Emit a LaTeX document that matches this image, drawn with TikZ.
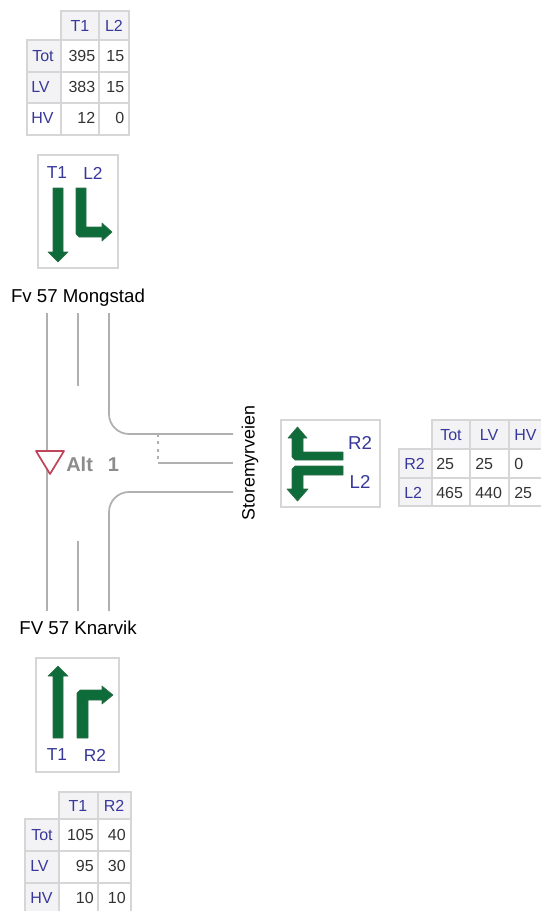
\documentclass[tikz,border=0pt]{standalone}
\usepackage{fontspec}
\setmainfont{Liberation Sans}
\definecolor{gridc}{HTML}{D6D6D6}
\definecolor{headc}{HTML}{F3F3F5}
\definecolor{labc}{HTML}{38389A}
\definecolor{numc}{HTML}{333333}
\definecolor{roadc}{HTML}{B0B0B0}
\definecolor{arrowc}{HTML}{0E6B3A}
\definecolor{arrowe}{HTML}{2E6E48}
\definecolor{yieldc}{HTML}{C0455A}
\tikzset{
  cellbox/.style={draw=gridc,line width=0.8pt},
  headbox/.style={cellbox,fill=headc},
  panel/.style={draw=gridc,line width=0.8pt,fill=white},
  road/.style={draw=roadc,line width=1.3pt},
  flow/.style={fill=arrowc,draw=arrowe,line width=0.5pt,line join=round},
  hd/.style={text=labc,font=\fontsize{12}{14}\selectfont,inner sep=0pt},
  num/.style={text=numc,font=\fontsize{12}{14}\selectfont,inner sep=0pt},
  boxlab/.style={text=labc,font=\fontsize{13}{15}\selectfont,inner sep=0pt},
  roadlab/.style={text=black,font=\fontsize{14}{16}\selectfont,inner sep=0pt},
}
\begin{document}
\begin{tikzpicture}[x=0.75pt,y=-0.75pt]
\useasboundingbox (0,0) rectangle (541,911);
\clip (0,0) rectangle (541,911);
\fill[white] (0,0) rectangle (541,911);

% ---------- top table
\draw[headbox] (61,11) rectangle (99,40);
\draw[headbox] (99,11) rectangle (129,40);
\draw[headbox] (27,40) rectangle (61,72);
\draw[headbox] (27,72) rectangle (61,103);
\draw[cellbox,fill=white] (27,103) rectangle (61,135);
\foreach \ya/\yb in {40/72,72/103,103/135}{
  \draw[cellbox] (61,\ya) rectangle (99,\yb);
  \draw[cellbox] (99,\ya) rectangle (129,\yb);
}
\node[hd] (ta1) at (80,26) {T1};
\node[hd] (ta2) at (114,26) {L2};
\node[hd,anchor=west] (ta3) at (32,56) {Tot};
\node[hd,anchor=west] (ta4) at (31,87) {LV};
\node[hd,anchor=west] (ta5) at (31,118) {HV};
\node[num,anchor=east] (ta6) at (95.5,56) {395};
\node[num,anchor=east] (ta7) at (124.5,56) {15};
\node[num,anchor=east] (ta8) at (95.5,87) {383};
\node[num,anchor=east] (ta9) at (124.5,87) {15};
\node[num,anchor=east] (ta10) at (95.5,118) {12};
\node[num,anchor=east] (ta11) at (124.5,118) {0};

% ---------- top panel
\draw[panel] (38,155) rectangle (118,268);
\node[boxlab] (pa1) at (57,173) {T1};
\node[boxlab] (pa2) at (93,173) {L2};
\draw[flow] (53,188) -- (63,188) -- (63,252) -- (68,252) -- (58,262) -- (48,252) -- (53,252) -- cycle;
\draw[flow] (76,188) -- (86,188) -- (86,227) -- (102,227) -- (102,223) -- (112,232) -- (102,241) -- (102,237) -- (79,237) -- (76,234) -- cycle;
\node[roadlab] (nroad) at (78,298) {Fv 57 Mongstad};

% ---------- junction
\draw[road] (47,313) -- (47,611);
\draw[road] (78,313) -- (78,386);
\draw[road] (109,313) -- (109,414) .. controls (109,425) and (118,434) .. (129,434) -- (233,434);
\draw[road] (158,463) -- (233,463);
\draw[road,line width=2pt,dash pattern=on 2.2pt off 3.4pt] (158,434) -- (158,463);
\draw[road] (233,492) -- (129,492) .. controls (118,492) and (109,501) .. (109,512) -- (109,611);
\draw[road] (78,541) -- (78,611);
\draw[draw=yieldc,fill=white,line width=1.3pt,line join=round] (36,451) -- (64,451) -- (50,474) -- cycle;
\node[text=black!45,font=\bfseries\fontsize{15}{16}\selectfont,inner sep=0pt,anchor=west] (alt) at (66,464) {Alt\hspace{0.75em}1};
\node[roadlab,rotate=90,font=\fontsize{13.4}{16}\selectfont] (eroad) at (250,463) {Storemyrveien};

% ---------- right panel
\draw[panel] (281,420) rectangle (380,507);
\draw[flow] (343,452) -- (303,452) -- (303,438) -- (307,438) -- (297.5,427) -- (288,438) -- (292,438) -- (292,457) -- (295,460) -- (343,460) -- cycle;
\draw[flow] (343,466) -- (295,466) -- (292,469) -- (292,489) -- (287,489) -- (297.5,501) -- (308,489) -- (303,489) -- (303,475) -- (343,475) -- cycle;
\node[boxlab,font=\fontsize{14}{16}\selectfont] (pb1) at (360,443) {R2};
\node[boxlab,font=\fontsize{14}{16}\selectfont] (pb2) at (360,482) {L2};

% ---------- right table
\draw[headbox] (432,420) rectangle (470,449);
\draw[headbox] (470,420) rectangle (509,449);
\draw[headbox] (509,420) rectangle (542,449);
\draw[headbox] (399,449) rectangle (432,478);
\draw[headbox] (399,478) rectangle (432,506);
\foreach \ya/\yb in {449/478,478/506}{
  \draw[cellbox] (432,\ya) rectangle (470,\yb);
  \draw[cellbox] (470,\ya) rectangle (509,\yb);
  \draw[cellbox] (509,\ya) rectangle (542,\yb);
}
\node[hd] (tb1) at (451,435) {Tot};
\node[hd] (tb2) at (489,435) {LV};
\node[hd,anchor=west] (tb3) at (514,435) {HV};
\node[hd,anchor=west] (tb4) at (404,464) {R2};
\node[hd,anchor=west] (tb5) at (404,493) {L2};
\node[num,anchor=west] (tb6) at (436,464) {25};
\node[num,anchor=west] (tb7) at (475,464) {25};
\node[num,anchor=west] (tb8) at (514,464) {0};
\node[num,anchor=west] (tb9) at (436,493) {465};
\node[num,anchor=west] (tb10) at (475,493) {440};
\node[num,anchor=west] (tb11) at (514,493) {25};

% ---------- bottom
\node[roadlab] (sroad) at (78,628) {FV 57 Knarvik};
\draw[panel] (36,658) rectangle (119,772);
\draw[flow] (53,738) -- (63,738) -- (63,676) -- (68,676) -- (58,666) -- (48,676) -- (53,676) -- cycle;
\draw[flow] (77,738) -- (88,738) -- (88,700) -- (102,700) -- (102,704) -- (113,695) -- (102,686) -- (102,690) -- (80,690) -- (77,693) -- cycle;
\node[boxlab] (pc1) at (57,755) {T1};
\node[boxlab] (pc2) at (95,755) {R2};

\draw[headbox] (59,792) rectangle (98,819);
\draw[headbox] (98,792) rectangle (131,819);
\draw[headbox] (25,819) rectangle (59,851);
\draw[headbox] (25,851) rectangle (59,883);
\draw[headbox] (25,883) rectangle (59,915);
\foreach \ya/\yb in {819/851,851/883,883/915}{
  \draw[cellbox] (59,\ya) rectangle (98,\yb);
  \draw[cellbox] (98,\ya) rectangle (131,\yb);
}
\node[hd] (tc1) at (78,806) {T1};
\node[hd] (tc2) at (114,806) {R2};
\node[hd,anchor=west] (tc3) at (31,835) {Tot};
\node[hd,anchor=west] (tc4) at (30,866) {LV};
\node[hd,anchor=west] (tc5) at (30,898) {HV};
\node[num,anchor=east] (tc6) at (94,835) {105};
\node[num,anchor=east] (tc7) at (126,835) {40};
\node[num,anchor=east] (tc8) at (94,866) {95};
\node[num,anchor=east] (tc9) at (126,866) {30};
\node[num,anchor=east] (tc10) at (94,898) {10};
\node[num,anchor=east] (tc11) at (126,898) {10};
\end{tikzpicture}
\end{document}
